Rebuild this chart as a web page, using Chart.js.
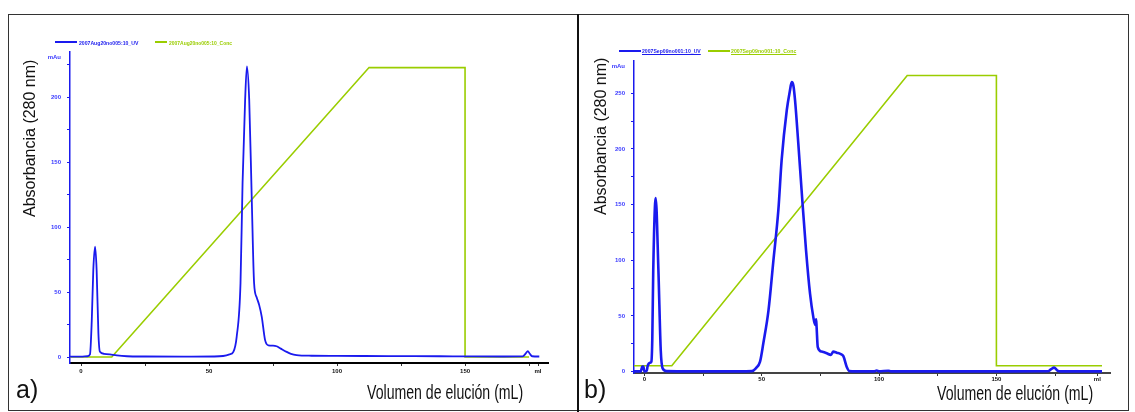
<!DOCTYPE html>
<html>
<head>
<meta charset="utf-8">
<script src="https://cdn.jsdelivr.net/npm/chart.js@4.4.1/dist/chart.umd.min.js"></script>
<style>
  body { margin: 0; width: 1135px; height: 412px; background: #fff; position: relative; overflow: hidden; font-family: "Liberation Sans", Arial, sans-serif; }
  .frame { position: absolute; border: 1.5px solid #333; box-sizing: border-box; }
  .divider { position: absolute; background: #111; }
  canvas { position: absolute; }
  .txt { position: absolute; white-space: nowrap; line-height: 1; }
  .big { font-family: "Liberation Sans Narrow", "Liberation Sans", sans-serif; color: #111; transform-origin: 0 0; }
  .leg { font-size: 6px; font-weight: bold; transform-origin: 0 0; }
  .legline { position: absolute; height: 2px; }
</style>
</head>
<body>
<div class="frame" style="left:8px; top:14px; width:1121px; height:397px;"></div>
<div class="divider" style="left:577px; top:14px; width:2px; height:398px;"></div>

<canvas id="chartA" width="566" height="392" style="left:10px; top:16px;"></canvas>
<canvas id="chartB" width="546" height="392" style="left:580px; top:16px;"></canvas>

<!-- legends -->
<div class="legline" style="left:55px; top:41px; width:22px; background:#1a1aee;"></div>
<div class="txt leg fit" data-w="59" style="left:79px; top:40px; color:#1a1aee;">2007Aug20no005:10_UV</div>
<div class="legline" style="left:155px; top:41px; width:12px; background:#9acd00;"></div>
<div class="txt leg fit" data-w="63" style="left:169px; top:40px; color:#9acd00;">2007Aug20no005:10_Conc</div>

<div class="legline" style="left:619px; top:50px; width:22px; background:#1a1aee;"></div>
<div class="txt leg fit" data-w="59" style="left:642px; top:48px; color:#1a1aee; text-decoration:underline;">2007Sep09no001:10_UV</div>
<div class="legline" style="left:708px; top:50px; width:22px; background:#9acd00;"></div>
<div class="txt leg fit" data-w="65" style="left:731px; top:48px; color:#9acd00; text-decoration:underline;">2007Sep09no001:10_Conc</div>

<!-- axis titles and panel letters -->
<div class="txt big fit" data-w="157" data-rot="1" style="left:22px; top:217px; font-size:16px;">Absorbancia (280 nm)</div>
<div class="txt big fit" data-w="157" data-rot="1" style="left:593px; top:215px; font-size:16px;">Absorbancia (280 nm)</div>
<div class="txt big fit" data-w="156" style="left:367px; top:382px; font-size:20px;">Volumen de elución (mL)</div>
<div class="txt big fit" data-w="156" style="left:937px; top:383px; font-size:20px;">Volumen de elución (mL)</div>
<div class="txt" style="left:16px; top:377px; font-size:25px; color:#111;">a)</div>
<div class="txt" style="left:584px; top:377px; font-size:25px; color:#111;">b)</div>

<script>
// ---- panel a) data ----
const volA = [-4.3, 0, 2.5, 3.5, 4.2, 4.8, 5.5, 6.1, 6.8, 7.4, 9, 11.3, 14, 18, 25, 40, 52, 55.5, 58, 59.5, 60.8,
  62.3, 63.1, 64.1, 64.8, 65.7, 66.7, 67.6, 68.6, 69.6, 70.6, 71.9, 73.2, 75, 76.4, 78, 80.3, 82, 84.2, 90,
  100, 120, 140, 150, 165, 172.5, 173.8, 174.5, 175.3, 176.2, 179];
const uvA = [0.3, 0.3, 0.6, 2, 28, 67, 85, 67, 18, 4, 2.5, 2, 1.2, 0.6, 0.4, 0.3, 0.4, 0.8, 2, 4, 15.6,
  57, 134, 198, 224, 198, 121, 57, 46, 40, 31, 13, 9, 8.8, 8.3, 6.5, 4, 2.5, 1.5, 1,
  0.9, 0.7, 0.6, 0.5, 0.4, 0.5, 3, 4.6, 2.5, 0.6, 0.4];
const concVolA = [-4.3, 12, 112.5, 150, 150, 175];
const concA = [0, 0, 100, 100, 0, 0];
const yTicksA = [0, 25, 50, 75, 100, 125, 150, 175, 200, 225];

// ---- panel b) data ----
const volB = [-4.4, -1.5, -0.9, -0.4, 0, 1.0, 1.4, 2.4, 3.0, 3.4, 3.8, 4.85, 6.0, 7.0, 7.8, 9.5, 20, 40,
  45.8, 47.5, 49.3, 50.7, 52.9, 55.0, 57.1, 58.5, 60.7, 62.0, 62.8, 63.5, 64.2, 65.6, 67.1, 68.9, 70.6,
  72.0, 72.8, 73.2, 73.4, 73.9, 75.5, 77.7, 79.5, 80.5, 82.0, 83.5, 84.8, 86.2, 87.4, 90, 98, 99, 100,
  104, 105, 120, 150, 172, 173.2, 174.6, 176, 177.5, 195];
const uvB = [0.3, 0.3, 4.5, 4.5, 0.3, 0.5, 5, 8, 9, 30, 91, 156, 91, 19, 3, 0.5, 0.3, 0.3,
  0.5, 3, 9, 25.5, 55, 100, 145, 190, 235, 252, 260, 257, 244, 205, 160, 109, 70,
  49, 42, 47, 40, 22, 18, 16.5, 15, 18, 17, 16, 14, 4.5, 0.5, 0.3, 0.3, 1, 0.3,
  0.8, 0.3, 0.3, 0.3, 0.4, 2, 3.6, 1, 0.3, 0.3];
const concVolB = [-4.4, 11.7, 112, 150, 150, 195];
const concB = [2, 2, 100, 100, 2, 2];
const yTicksB = [0, 25, 50, 75, 100, 125, 150, 175, 200, 225, 250];

const xTicks = [0, 25, 50, 75, 100, 125, 150, 175];
const xLabels = [0, 50, 100, 150];

const BLUE = '#1a1aee';
const GREEN = '#9acd00';

function pts(xs, ys) {
  return xs.map((x, i) => ({ x: x, y: ys[i] }));
}

function buildChart(id, p) {
  const ctx = document.getElementById(id).getContext('2d');
  return new Chart(ctx, {
    type: 'line',
    data: {
      datasets: [{
        data: pts(p.vol, p.uv),
        borderColor: BLUE,
        borderWidth: p.uvWidth,
        pointRadius: 0,
        cubicInterpolationMode: 'monotone',
        yAxisID: 'y'
      }, {
        data: pts(p.concVol, p.conc),
        borderColor: GREEN,
        borderWidth: 1.6,
        pointRadius: 0,
        tension: 0,
        yAxisID: 'y2'
      }]
    },
    options: {
      responsive: false,
      animation: false,
      layout: { padding: p.padding },
      plugins: { legend: { display: false }, tooltip: { enabled: false } },
      scales: {
        x: {
          type: 'linear',
          min: p.xMin, max: p.xMax,
          afterFit: s => { s.height = p.xHeight; },
          afterBuildTicks: s => {
            s.ticks = xTicks.map(v => ({ value: v })).concat([{ value: p.mlAt }]);
          },
          ticks: {
            autoSkip: false, maxRotation: 0, padding: p.xPad, color: '#111',
            font: { family: 'Liberation Sans', size: 6, weight: 'bold' },
            callback: v => v === p.mlAt ? 'ml' : (xLabels.includes(v) ? String(v) : '')
          },
          grid: { drawOnChartArea: false, tickLength: 3, tickColor: '#333' },
          border: { color: p.xAxisColor, width: 2 }
        },
        y: {
          min: p.yMin, max: p.yMax,
          afterFit: s => { s.width = p.yWidth; },
          afterBuildTicks: s => {
            s.ticks = p.yTicks.map(v => ({ value: v })).concat([{ value: p.mAuAt }]);
          },
          ticks: {
            autoSkip: false, padding: 6, color: '#3a3aff',
            font: { family: 'Liberation Sans', size: 6, weight: 'bold' },
            callback: v => v === p.mAuAt ? 'mAu' : (v % 50 === 0 ? String(v) : '')
          },
          grid: {
            drawOnChartArea: false, tickLength: 3,
            tickColor: c => c.tick && c.tick.value === p.mAuAt ? 'rgba(0,0,0,0)' : BLUE
          },
          border: { color: BLUE, width: 1.5 }
        },
        y2: {
          display: false,
          min: p.yMin / p.concScale, max: p.yMax / p.concScale
        }
      }
    }
  });
}

buildChart('chartA', {
  vol: volA, uv: uvA, concVol: concVolA, conc: concA,
  yMin: -4.6, yMax: 235, yTicks: yTicksA, mAuAt: 231,
  xMin: -4.3, xMax: 182.4, mlAt: 178.5,
  concScale: 2.23, uvWidth: 1.8, xAxisColor: '#000', xPad: 2,
  padding: { left: 0, top: 36, right: 28, bottom: 0 }, yWidth: 60, xHeight: 45
});

buildChart('chartB', {
  vol: volB, uv: uvB, concVol: concVolB, conc: concB,
  yMin: -1.2, yMax: 279, yTicks: yTicksB, mAuAt: 274.5,
  xMin: -4.4, xMax: 198.4, mlAt: 193,
  concScale: 2.66, uvWidth: 2.6, xAxisColor: '#444', xPad: 0,
  padding: { left: 0, top: 45, right: 16, bottom: 0 }, yWidth: 54, xHeight: 35
});

// squeeze the labels to the widths seen in the figure
document.querySelectorAll('.fit').forEach(el => {
  const k = Number(el.dataset.w) / el.offsetWidth;
  if (el.dataset.rot) {
    el.style.transform = 'rotate(-90deg) scaleX(' + k + ')';
  } else {
    el.style.transform = 'scaleX(' + k + ')';
  }
});
</script>
</body>
</html>
